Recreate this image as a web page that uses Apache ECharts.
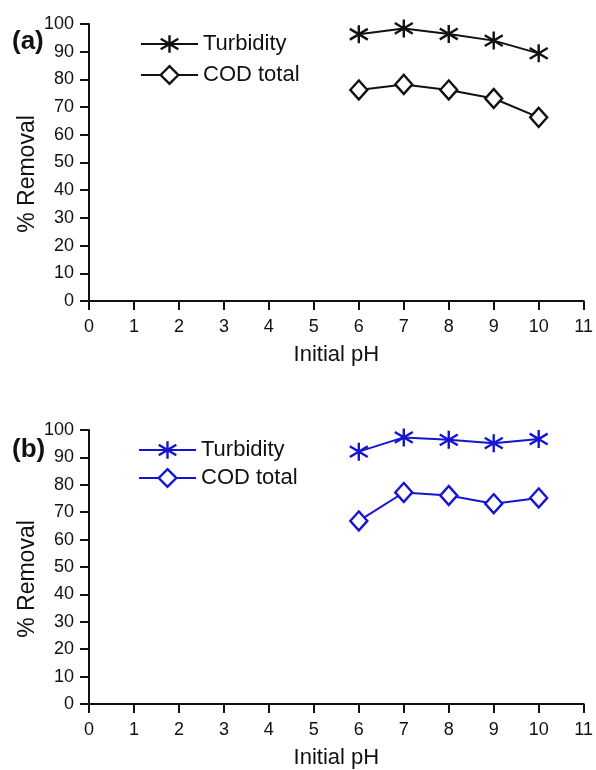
<!DOCTYPE html>
<html>
<head>
<meta charset="utf-8">
<script src="https://cdn.jsdelivr.net/npm/echarts@6/dist/echarts.min.js"></script>
<style>
  html, body { margin: 0; padding: 0; background: #fff; }
  #chart { width: 596px; height: 770px; }
</style>
</head>
<body>
<div id="chart"></div>
<script>
// Initial pH values where removal was measured
const phValues = [6, 7, 8, 9, 10];

// Panel (a): % removal
const turbidityA = [96.3, 98.4, 96.4, 94.0, 89.4];
const codTotalA = [76.2, 78.2, 76.2, 73.1, 66.3];

// Panel (b): % removal
const turbidityB = [92.1, 97.3, 96.4, 95.2, 96.7];
const codTotalB = [66.8, 77.2, 76.1, 73.1, 75.2];

// Axis ranges and labels
const xRange = { min: 0, max: 11, interval: 1 };
const yRange = { min: 0, max: 100, interval: 10 };
const xTitle = 'Initial pH';
const yTitle = '% Removal';
const panelLabels = ['(a)', '(b)'];
const seriesNames = ['Turbidity', 'COD total'];

const FONT = '"Liberation Sans", Arial, sans-serif';
const BLACK = '#111';
const BLUE = '#1414d2';

// Asterisk marker: vertical stroke plus two diagonals
const STAR = 'path://M10 0L10 20M2 4L18 16M2 16L18 4';

const pair = (xs, ys) => xs.map((x, i) => [x, ys[i]]);

function xAxisFor(gridIndex) {
  return {
    type: 'value', gridIndex,
    min: xRange.min, max: xRange.max, interval: xRange.interval,
    name: xTitle, nameLocation: 'middle', nameGap: 43,
    nameTextStyle: { fontFamily: FONT, fontSize: 22, color: BLACK },
    axisLine: { show: true, onZero: false, lineStyle: { color: BLACK, width: 2 } },
    axisTick: { show: true, inside: false, length: 9, lineStyle: { color: BLACK, width: 2 } },
    axisLabel: { fontFamily: FONT, fontSize: 18, color: BLACK, margin: 17 },
    splitLine: { show: false }
  };
}

function yAxisFor(gridIndex) {
  return {
    type: 'value', gridIndex,
    min: yRange.min, max: yRange.max, interval: yRange.interval,
    axisLine: { show: true, onZero: false, lineStyle: { color: BLACK, width: 2 } },
    axisTick: { show: true, inside: false, length: 9, lineStyle: { color: BLACK, width: 2 } },
    axisLabel: { fontFamily: FONT, fontSize: 18, color: BLACK, margin: 15 },
    splitLine: { show: false }
  };
}

function lineSeries(name, idx, data, color, symbol, size) {
  return {
    type: 'line', name, xAxisIndex: idx, yAxisIndex: idx,
    data, symbol, symbolSize: size, showAllSymbol: true,
    lineStyle: { color, width: 2 },
    itemStyle: { color: '#fff', borderColor: color, borderWidth: 2.4 },
    emphasis: { disabled: true },
    animation: false, z: 3
  };
}

function legendFor(names, left, top, gap) {
  return {
    data: names, orient: 'vertical', left, top,
    itemWidth: 57, itemHeight: 22, itemGap: gap,
    selectedMode: false,
    textStyle: { fontFamily: FONT, fontSize: 22, color: BLACK, lineHeight: 22 },
    lineStyle: { width: 2 },
    itemStyle: { borderWidth: 2.4 }
  };
}

const chart = echarts.init(document.getElementById('chart'), null, { renderer: 'canvas' });

chart.setOption({
  backgroundColor: '#fff',
  animation: false,
  grid: [
    { left: 89, top: 24, width: 498, height: 277 },
    { left: 89, top: 430, width: 498, height: 275 }
  ],
  xAxis: [xAxisFor(0), xAxisFor(1)],
  yAxis: [yAxisFor(0), yAxisFor(1)],
  legend: [
    legendFor(['Turbidity ', 'COD total '], 135, 28, 9),
    legendFor(['Turbidity', 'COD total'], 133, 434, 6)
  ],
  series: [
    lineSeries('Turbidity ', 0, pair(phValues, turbidityA), BLACK, STAR, [18, 18]),
    lineSeries('COD total ', 0, pair(phValues, codTotalA), BLACK, 'diamond', [17, 19]),
    lineSeries(seriesNames[0], 1, pair(phValues, turbidityB), BLUE, STAR, [18, 18]),
    lineSeries(seriesNames[1], 1, pair(phValues, codTotalB), BLUE, 'diamond', [17, 19])
  ],
  graphic: [
    { type: 'text', left: 12, top: 29, style: { text: panelLabels[0], font: 'bold 26px ' + FONT, fill: BLACK } },
    { type: 'text', left: 12, top: 437, style: { text: panelLabels[1], font: 'bold 26px ' + FONT, fill: BLACK } },
    { type: 'text', x: 28, y: 174, rotation: Math.PI / 2,
      style: { text: yTitle, font: '23px ' + FONT, fill: BLACK, align: 'center', verticalAlign: 'middle' } },
    { type: 'text', x: 28, y: 579, rotation: Math.PI / 2,
      style: { text: yTitle, font: '23px ' + FONT, fill: BLACK, align: 'center', verticalAlign: 'middle' } }
  ]
});
</script>
</body>
</html>
